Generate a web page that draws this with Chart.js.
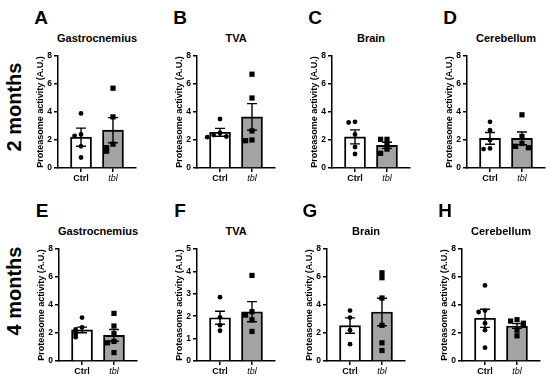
<!DOCTYPE html>
<html>
<head>
<meta charset="utf-8">
<script src="https://cdn.jsdelivr.net/npm/chart.js@4.4.0/dist/chart.umd.min.js"></script>
<style>
  body { margin: 0; background: #fff; font-family: Arial, "Liberation Sans", sans-serif; }
  #fig { position: relative; width: 550px; height: 383px; overflow: hidden; background: #fff; }
  canvas, .lbl { position: absolute; }
  .letter { font-size: 19px; font-weight: bold; transform: translate(-50%, -50%); }
  .title { font-size: 11px; font-weight: bold; transform: translate(-50%, -50%); white-space: nowrap; }
  .row { font-size: 20px; font-weight: bold; transform: translate(-50%, -50%) rotate(-90deg); white-space: nowrap; }
</style>
</head>
<body>
<div id="fig"></div>
<script>
// data
const groups = ['Ctrl', 'tbl'];
const letters = ['A', 'B', 'C', 'D', 'E', 'F', 'G', 'H'];
const tissues = ['Gastrocnemius', 'TVA', 'Brain', 'Cerebellum', 'Gastrocnemius', 'TVA', 'Brain', 'Cerebellum'];
const rowLabels = ['2 months', '4 months'];
const yMax = [8, 8, 8, 8, 8, 5, 8, 8];

const ctrlMean = [2.2, 2.55, 2.22, 2.12, 2.22, 1.93, 2.53, 3.05];
const ctrlSem = [0.65, 0.28, 0.5, 0.42, 0.2, 0.29, 0.55, 0.65];
const tblMean = [2.7, 3.65, 1.62, 2.12, 1.83, 2.2, 3.5, 2.5];
const tblSem = [0.9, 0.95, 0.22, 0.45, 0.42, 0.45, 0.98, 0.17];

const ctrlPoints = [
  [3.9, 2.4, 2.3, 1.55, 0.75],
  [3.5, 2.5, 2.35, 2.25, 2.2],
  [3.3, 3.25, 2.4, 1.5, 1.0],
  [3.3, 2.7, 2.0, 1.4, 1.35],
  [3.1, 2.4, 2.25, 2.05, 1.9, 1.7],
  [2.85, 1.95, 1.6, 1.35],
  [3.6, 3.1, 2.2, 1.2],
  [5.4, 3.6, 3.5, 2.7, 2.2, 0.95]
];
const tblPoints = [
  [5.7, 3.65, 1.7, 1.45, 1.2],
  [6.7, 5.0, 2.65, 2.0, 1.95],
  [2.05, 2.05, 1.7, 1.35, 1.05],
  [3.8, 2.25, 1.75, 1.55, 1.45],
  [3.4, 2.5, 1.95, 1.4, 1.3, 0.6],
  [3.82, 2.2, 2.05, 1.84, 1.32],
  [6.3, 5.95, 4.5, 2.55, 1.3, 0.75],
  [2.95, 2.85, 2.7, 2.55, 2.2, 1.8]
];

// layout
const axisX = [58, 197, 332, 467, 59, 197, 327, 462];
const areaTop = [56, 56, 56, 56, 249, 249, 249, 249];
const yAxisW = 45, xAxisH = 20, padTop = 10, padRight = 10;
const areaW = 78, areaH = 112;
const FONT = 'Arial, "Liberation Sans", sans-serif';

const fig = document.getElementById('fig');

function addLabel(cls, text, x, y) {
  const d = document.createElement('div');
  d.className = 'lbl ' + cls;
  d.textContent = text;
  d.style.left = x + 'px';
  d.style.top = y + 'px';
  fig.appendChild(d);
}

// spread points that sit close together, like a scatter dot plot
function spread(values, xc, max) {
  const placed = [];
  return values.map(v => {
    const near = placed.filter(p => Math.abs(p - v) < 0.32 * max / 8).length;
    placed.push(v);
    const off = near === 0 ? 0 : (near % 2 ? -1 : 1) * Math.ceil(near / 2) * 0.2;
    return { x: xc + off, y: v };
  });
}

function makeChart(i) {
  const canvas = document.createElement('canvas');
  canvas.width = yAxisW + areaW + padRight;
  canvas.height = padTop + areaH + xAxisH;
  canvas.style.left = (axisX[i] - yAxisW) + 'px';
  canvas.style.top = (areaTop[i] - padTop) + 'px';
  fig.appendChild(canvas);

  const sems = [ctrlSem[i], tblSem[i]];
  const errorBars = {
    id: 'errorBars',
    afterDatasetsDraw(chart) {
      const { ctx, scales: { x, y } } = chart;
      ctx.save();
      ctx.strokeStyle = '#000';
      ctx.lineWidth = 1.4;
      chart.data.datasets[0].data.forEach((d, k) => {
        const px = x.getPixelForValue(d.x);
        const top = y.getPixelForValue(d.y + sems[k]);
        const bot = y.getPixelForValue(d.y - sems[k]);
        ctx.beginPath();
        ctx.moveTo(px, top); ctx.lineTo(px, bot);
        ctx.moveTo(px - 5, top); ctx.lineTo(px + 5, top);
        ctx.moveTo(px - 5, bot); ctx.lineTo(px + 5, bot);
        ctx.stroke();
      });
      ctx.restore();
    }
  };

  new Chart(canvas.getContext('2d'), {
    data: {
      datasets: [
        {
          type: 'bar',
          data: [{ x: 0, y: ctrlMean[i] }, { x: 1, y: tblMean[i] }],
          backgroundColor: ['#ffffff', '#a3a3a3'],
          borderColor: '#000',
          borderWidth: 1.9,
          barThickness: 21,
          order: 3
        },
        {
          type: 'scatter',
          data: spread(ctrlPoints[i], 0, yMax[i]),
          pointStyle: 'circle',
          pointRadius: 2.4,
          backgroundColor: '#000',
          borderWidth: 0,
          order: 2
        },
        {
          type: 'scatter',
          data: spread(tblPoints[i], 1, yMax[i]),
          pointStyle: 'rect',
          pointRadius: 3.7,
          backgroundColor: '#000',
          borderWidth: 0,
          order: 1
        }
      ]
    },
    options: {
      responsive: false,
      animation: false,
      devicePixelRatio: 1,
      layout: { padding: { top: padTop, right: padRight, left: 0, bottom: 0 } },
      plugins: {
        legend: { display: false },
        tooltip: { enabled: false },
        title: { display: false }
      },
      scales: {
        x: {
          type: 'linear',
          offset: false,
          min: -0.72,
          max: 1.72,
          afterBuildTicks: s => { s.ticks = [{ value: 0 }, { value: 1 }]; },
          afterFit: s => { s.height = xAxisH; },
          border: { color: '#000', width: 1.5 },
          grid: { offset: false, drawOnChartArea: false, drawTicks: true, tickLength: 4, color: '#000', lineWidth: 1.5 },
          ticks: {
            padding: 1,
            color: '#000',
            callback: v => groups[v],
            font: c => ({
              family: FONT,
              size: 9,
              weight: c.index === 0 ? 'bold' : 'normal',
              style: c.index === 1 ? 'italic' : 'normal'
            })
          }
        },
        y: {
          min: 0,
          max: yMax[i],
          afterFit: s => { s.width = yAxisW; },
          border: { color: '#000', width: 1.5 },
          grid: { drawOnChartArea: false, drawTicks: true, tickLength: 4, color: '#000', lineWidth: 1.5 },
          ticks: {
            stepSize: yMax[i] === 5 ? 1 : 2,
            padding: 2,
            color: '#000',
            font: { family: FONT, size: 8.5, weight: 'bold' }
          },
          title: {
            display: true,
            text: 'Proteasome activity (A.U.)',
            color: '#000',
            font: { family: FONT, size: 9, weight: 'bold' },
            padding: { top: 22, bottom: 0 }
          }
        }
      }
    },
    plugins: [errorBars]
  });

  addLabel('letter', letters[i], axisX[i] - 17, areaTop[i] - 38);
  addLabel('title', tissues[i], axisX[i] + areaW / 2, areaTop[i] - 18);
}

addLabel('row', rowLabels[0], 14, 107);
addLabel('row', rowLabels[1], 14, 291);
for (let i = 0; i < 8; i++) makeChart(i);
</script>
</body>
</html>
